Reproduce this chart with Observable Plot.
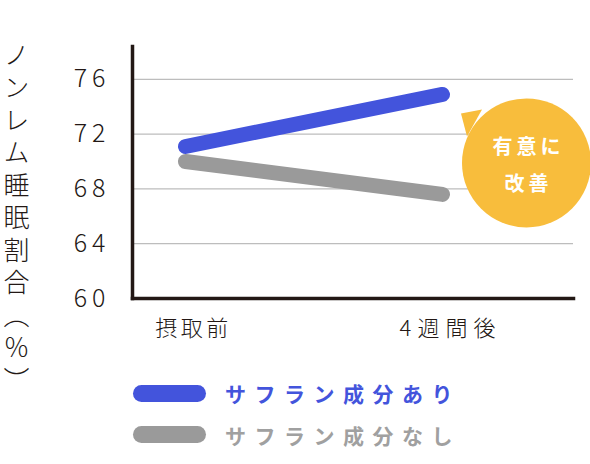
<!DOCTYPE html>
<html><head><meta charset="utf-8">
<script src="https://cdn.jsdelivr.net/npm/d3@7"></script>
<script src="https://cdn.jsdelivr.net/npm/@observablehq/plot@0.6"></script>
<style>
body{margin:0;background:#fff;font-family:"Noto Sans CJK JP",sans-serif;}
#wrap{position:relative;width:590px;height:464px;overflow:hidden;}
#ytitle{position:absolute;left:2px;top:42px;writing-mode:vertical-rl;text-orientation:mixed;font-size:26px;letter-spacing:6.5px;font-weight:300;color:#231815;line-height:28px;width:28px;}
.legend{position:absolute;left:133px;display:flex;align-items:center;height:30px;}
.swatch{width:73px;height:17px;border-radius:9px;}
.ltext{margin-left:19px;font-size:21px;font-weight:700;letter-spacing:8.5px;line-height:30px;}
</style></head><body>
<div id="wrap"><div id="chart"></div><div id="ytitle"></div><div id="legend"></div></div>
<script>
const categories = ["摂取前", "4週間後"];
const tickLabels = ["摂取前", "4週間後"];
const tickSpacing = ["3.5px", "6px"];
const seriesNames = ["サフラン成分あり", "サフラン成分なし"];
const withSaffron = [71.1, 74.9];
const withoutSaffron = [70.0, 67.6];
const yTicks = [60, 64, 68, 72, 76];
const seriesColors = ["#4354dc", "#9a9a9a"];
const legendTextColors = ["#4354dc", "#a0a0a0"];
const badgeLines = ["有意に", "改善"];
const yTitle = "ノンレム睡眠割合（％）";

const rows = [];
categories.forEach((c, i) => rows.push({cat: c, value: withoutSaffron[i], series: seriesNames[1]}));
categories.forEach((c, i) => rows.push({cat: c, value: withSaffron[i], series: seriesNames[0]}));

const font = '"Noto Sans CJK JP", sans-serif';
const ink = "#231815";

const plot = Plot.plot({
  width: 590,
  height: 360,
  marginLeft: 132,
  marginRight: 17,
  marginTop: 46,
  marginBottom: 62,
  style: {fontFamily: font, background: "#fff", color: ink, overflow: "visible"},
  x: {type: "point", domain: categories, range: [185, 442], padding: 0},
  y: {domain: [60, 78.4]},
  color: {domain: seriesNames, range: seriesColors},
  marks: [
    Plot.gridY(yTicks.filter(d => d > 60), {stroke: "#bdbdbd", strokeOpacity: 1, strokeWidth: 1.2}),
    Plot.axisY({ticks: yTicks, tickSize: 0, tickPadding: 22, fontSize: 25, fontWeight: 300, fill: ink, label: null}),
    Plot.axisX({tickSize: 0, tickPadding: 22, fontSize: 22, fontWeight: 300, fill: ink, label: null,
      tickFormat: d => tickLabels[categories.indexOf(d)], dx: 8}),
    Plot.line(rows.filter(d => d.series === seriesNames[1]), {x: "cat", y: "value", stroke: "series", strokeWidth: 15, strokeLinecap: "round"}),
    Plot.line(rows.filter(d => d.series === seriesNames[0]), {x: "cat", y: "value", stroke: "series", strokeWidth: 15, strokeLinecap: "round"}),
    Plot.frame({anchor: "left", stroke: ink, strokeWidth: 3.5}),
    Plot.frame({anchor: "bottom", stroke: ink, strokeWidth: 3.5}),
    Plot.dot([{cat: categories[1], value: 69.9}], {x: "cat", y: "value", r: 64.5, fill: "#f8bd3c", stroke: null, dx: 84}),
    Plot.text([{cat: categories[1], value: 69.9, t: badgeLines[0]}], {x: "cat", y: "value", text: "t", dx: 86, dy: -15, fill: "#fff", fontSize: 20, fontWeight: 700}),
    Plot.text([{cat: categories[1], value: 69.9, t: badgeLines[1]}], {x: "cat", y: "value", text: "t", dx: 86, dy: 22, fill: "#fff", fontSize: 20, fontWeight: 700})
  ]
});
document.getElementById("chart").appendChild(plot);

const svg = d3.select(plot);
svg.selectAll('g[aria-label="y-axis tick label"] text').attr("letter-spacing", "5px");
svg.selectAll('g[aria-label="x-axis tick label"] text').attr("letter-spacing", (d, i) => tickSpacing[i]);
svg.selectAll('g[aria-label="text"] text').attr("letter-spacing", "4px");

// speech-bubble pointer, positioned relative to the bubble dot
const xs = plot.scale("x"), ys = plot.scale("y");
const cx = xs.apply(categories[1]) + 84, cy = ys.apply(69.9);
const dotG = svg.select('g[aria-label="dot"]').node();
const p = d3.create("svg:path")
  .attr("d", `M${cx - 65},${cy - 49}L${cx - 44},${cy - 53}L${cx - 59},${cy - 26}Z`)
  .attr("fill", "#f8bd3c");
dotG.parentNode.insertBefore(p.node(), dotG);

document.getElementById("ytitle").textContent = yTitle;

const leg = document.getElementById("legend");
seriesNames.forEach((s, i) => {
  const item = document.createElement("div");
  item.className = "legend";
  item.style.top = (378 + i * 41.5) + "px";
  item.innerHTML = `<div class="swatch" style="background:${seriesColors[i]}"></div><div class="ltext" style="color:${legendTextColors[i]}">${s}</div>`;
  leg.appendChild(item);
});
</script>
</body></html>
